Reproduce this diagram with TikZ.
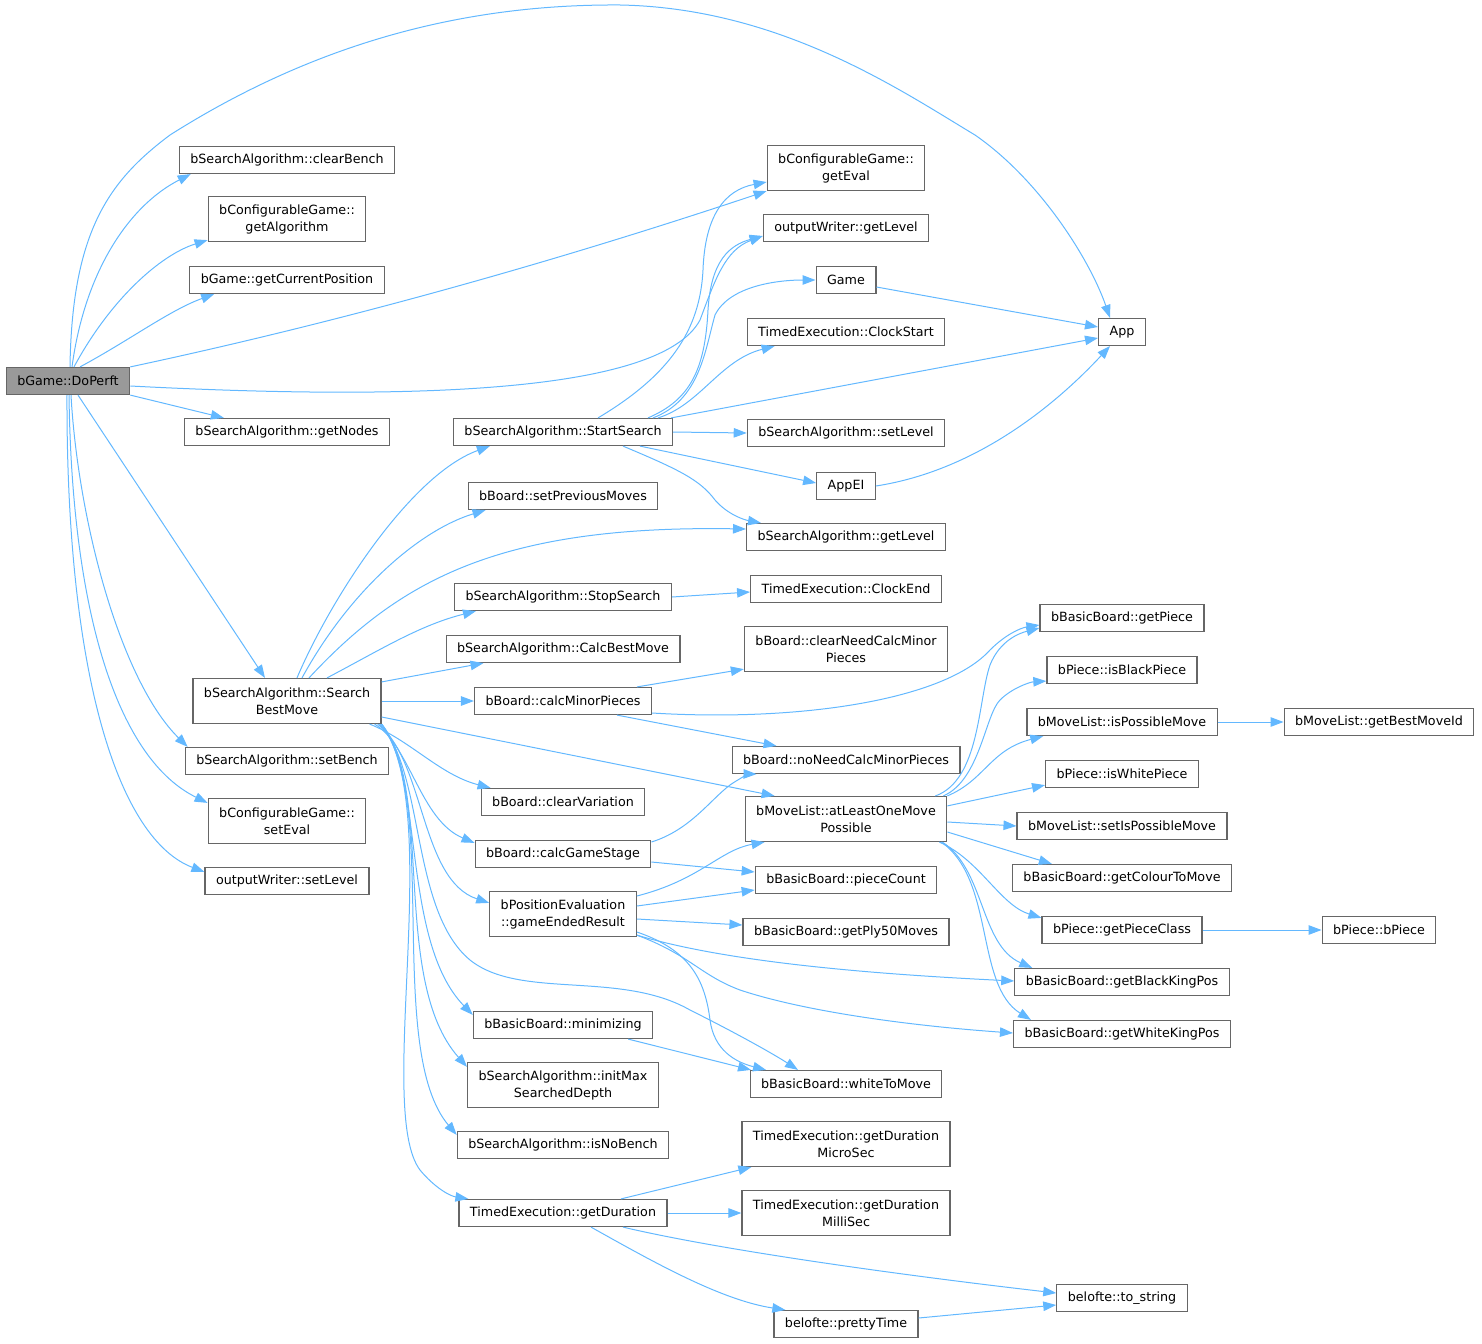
\documentclass[tikz,border=0pt]{standalone}
\usepackage{fontspec}
\setmainfont{DejaVu Sans}
\usetikzlibrary{arrows.meta}
\definecolor{nodeline}{HTML}{666666}
\definecolor{nodegray}{HTML}{999999}
\definecolor{edgeblue}{HTML}{63B8FF}
\tikzset{
  fn/.style={draw=nodeline, fill=white, line width=1.2pt, inner xsep=11pt, inner ysep=6pt,
    minimum height=27pt, align=center, font=\fontsize{12.7}{17}\selectfont},
  tall/.style={minimum height=45pt},
  hl/.style={fn, fill=nodegray},
  call/.style={draw=edgeblue, line width=1pt, -{Triangle[length=13pt,width=9.5pt]}}
}
\begin{document}
\begin{tikzpicture}[x=1pt,y=-1pt]
\useasboundingbox (0,0) rectangle (1482,1343);
% first column
\node[hl] (doPerft) at (68,381){bGame::DoPerft};
% second column
\node[fn] (clearBench) at (287,160){bSearchAlgorithm::clearBench};
\node[fn, tall] (getAlgorithm) at (287,219){bConfigurableGame::\\getAlgorithm};
\node[fn] (getCurPos) at (287,280){bGame::getCurrentPosition};
\node[fn] (getNodes) at (287,432){bSearchAlgorithm::getNodes};
\node[fn, tall] (searchBest) at (287,701){bSearchAlgorithm::Search\\BestMove};
\node[fn] (setBench) at (287,761){bSearchAlgorithm::setBench};
\node[fn, tall] (setEval) at (287,821){bConfigurableGame::\\setEval};
\node[fn] (owSetLevel) at (287,881){outputWriter::setLevel};
% third column
\node[fn] (startSearch) at (563,432){bSearchAlgorithm::StartSearch};
\node[fn] (setPrevMoves) at (563,496){bBoard::setPreviousMoves};
\node[fn] (stopSearch) at (563,597){bSearchAlgorithm::StopSearch};
\node[fn] (calcBest) at (563,649){bSearchAlgorithm::CalcBestMove};
\node[fn] (calcMinor) at (563,701){bBoard::calcMinorPieces};
\node[fn] (clearVar) at (563,802){bBoard::clearVariation};
\node[fn] (calcStage) at (563,854){bBoard::calcGameStage};
\node[fn, tall] (gameEnded) at (563,914){bPositionEvaluation\\::gameEndedResult};
\node[fn] (minimizing) at (563,1025){bBasicBoard::minimizing};
\node[fn, tall] (initMax) at (563,1085){bSearchAlgorithm::initMax\\SearchedDepth};
\node[fn] (isNoBench) at (563,1145){bSearchAlgorithm::isNoBench};
\node[fn] (getDuration) at (563,1213){TimedExecution::getDuration};
% fourth column
\node[fn, tall] (getEval) at (846,168){bConfigurableGame::\\getEval};
\node[fn] (owGetLevel) at (846,228){outputWriter::getLevel};
\node[fn] (game) at (846,280){Game};
\node[fn] (clockStart) at (846,332){TimedExecution::ClockStart};
\node[fn] (saSetLevel) at (846,433){bSearchAlgorithm::setLevel};
\node[fn] (appEI) at (846,486){AppEI};
\node[fn] (saGetLevel) at (846,537){bSearchAlgorithm::getLevel};
\node[fn] (clockEnd) at (846,589){TimedExecution::ClockEnd};
\node[fn, tall] (clearNeed) at (846,649){bBoard::clearNeedCalcMinor\\Pieces};
\node[fn] (noNeed) at (846,760){bBoard::noNeedCalcMinorPieces};
\node[fn, tall] (atLeastOne) at (846,819){bMoveList::atLeastOneMove\\Possible};
\node[fn] (pieceCount) at (846,880){bBasicBoard::pieceCount};
\node[fn] (getPly) at (846,932){bBasicBoard::getPly50Moves};
\node[fn] (whiteToMove) at (846,1084){bBasicBoard::whiteToMove};
\node[fn, tall] (durMicro) at (846,1144){TimedExecution::getDuration\\MicroSec};
\node[fn, tall] (durMilli) at (846,1213){TimedExecution::getDuration\\MilliSec};
\node[fn] (prettyTime) at (846,1324){belofte::prettyTime};
% fifth column
\node[fn] (app) at (1122,332){App};
\node[fn] (getPiece) at (1122,618){bBasicBoard::getPiece};
\node[fn] (isBlack) at (1122,670){bPiece::isBlackPiece};
\node[fn] (isPossible) at (1122,722){bMoveList::isPossibleMove};
\node[fn] (isWhite) at (1122,774){bPiece::isWhitePiece};
\node[fn] (setIsPossible) at (1122,826){bMoveList::setIsPossibleMove};
\node[fn] (getColour) at (1122,878){bBasicBoard::getColourToMove};
\node[fn] (getPieceClass) at (1122,930){bPiece::getPieceClass};
\node[fn] (getBlackKing) at (1122,982){bBasicBoard::getBlackKingPos};
\node[fn] (getWhiteKing) at (1122,1034){bBasicBoard::getWhiteKingPos};
\node[fn] (toString) at (1122,1298){belofte::to\_string};
% sixth column
\node[fn] (getBestMove) at (1379,722){bMoveList::getBestMoveId};
\node[fn] (bPiece) at (1379,930){bPiece::bPiece};
% calls of bGame::DoPerft
\draw[call] ([xshift=2pt]doPerft.north) .. controls (72,230) and (110,180) .. (170,135) .. controls (320,40) and (470,4) .. (620,5) .. controls (780,8) and (900,90) .. (975,135) .. controls (1040,180) and (1090,260) .. ([xshift=-12pt]app.north);
\draw[call] ([xshift=4pt]doPerft.north) .. controls (85,270) and (130,205) .. ([xshift=12pt]clearBench.south west);
\draw[call] ([xshift=6pt]doPerft.north) .. controls (110,300) and (160,255) .. ([yshift=2pt]getAlgorithm.south west);
\draw[call] ([xshift=12pt]doPerft.north) .. controls (130,340) and (170,310) .. ([xshift=25pt]getCurPos.south west);
\draw[call] (doPerft.north east) .. controls (350,320) and (560,260) .. (getEval.south west);
\draw[call] ([yshift=-5pt]doPerft.east) .. controls (400,400) and (660,395) .. (700,320) .. controls (715,280) and (725,250) .. ([yshift=-8pt]owGetLevel.west);
\draw[call] (doPerft.south east) -- ([xshift=40pt]getNodes.north west);
\draw[call] ([xshift=10pt]doPerft.south) -- ([xshift=-22pt]searchBest.north);
\draw[call] ([xshift=3pt]doPerft.south) .. controls (78,520) and (120,680) .. ([xshift=3pt]setBench.north west);
\draw[call] ([xshift=1pt]doPerft.south) .. controls (72,620) and (120,760) .. ([yshift=-5pt]setEval.north west);
\draw[call] ([xshift=-1pt]doPerft.south) .. controls (66,680) and (120,840) .. ([yshift=-5pt]owSetLevel.north west);
% calls of StartSearch
\draw[call] ([xshift=35pt]startSearch.north) .. controls (670,375) and (700,330) .. (703,270) .. controls (705,215) and (725,190) .. ([yshift=-14pt]getEval.west);
\draw[call] ([xshift=85pt]startSearch.north) .. controls (690,400) and (705,370) .. (708,310) .. controls (711,260) and (730,245) .. ([yshift=-8pt]owGetLevel.west);
\draw[call] ([xshift=90pt]startSearch.north) .. controls (700,400) and (705,350) .. (715,315) .. controls (730,285) and (780,280) .. (game.west);
\draw[call] ([xshift=95pt]startSearch.north) .. controls (700,405) and (720,360) .. ([xshift=28pt]clockStart.south west);
\draw[call] ([xshift=-2pt]startSearch.north east) -- ([yshift=-6pt]app.west);
\draw[call] (startSearch.east) -- (saSetLevel.west);
\draw[call] ([xshift=77pt]startSearch.south) -- ([yshift=3pt]appEI.west);
\draw[call] ([xshift=60pt]startSearch.south) .. controls (680,470) and (700,480) .. (715,500) .. controls (728,515) and (745,520) .. ([xshift=15pt]saGetLevel.north west);
\draw[call] ([yshift=-7pt]game.east) -- ([yshift=5pt]app.west);
\draw[call] (appEI.east) .. controls (980,470) and (1060,400) .. ([xshift=-12pt]app.south);
% calls of SearchBestMove
\draw[call] ([xshift=10pt]searchBest.north) .. controls (330,600) and (410,475) .. ([xshift=37pt]startSearch.south west);
\draw[call] ([xshift=15pt]searchBest.north) .. controls (350,590) and (420,530) .. ([xshift=18pt]setPrevMoves.south west);
\draw[call] ([xshift=22pt]searchBest.north) .. controls (400,580) and (500,525) .. ([yshift=8pt]saGetLevel.west);
\draw[call] ([xshift=40pt]searchBest.north) .. controls (380,650) and (420,625) .. ([xshift=22pt]stopSearch.south west);
\draw[call] ([yshift=-4pt]searchBest.north east) -- ([xshift=38pt]calcBest.south west);
\draw[call] (searchBest.east) -- (calcMinor.west);
\draw[call] ([yshift=-16pt]searchBest.east) -- ([xshift=30pt]atLeastOne.north west);
\draw[call] ([xshift=-12pt]searchBest.south east) .. controls (410,740) and (440,775) .. ([xshift=10pt]clearVar.north west);
\draw[call] ([xshift=-7pt]searchBest.south east) .. controls (410,745) and (420,820) .. ([yshift=-3pt]calcStage.north west);
\draw[call] ([xshift=-4pt]searchBest.south east) .. controls (425,760) and (420,880) .. ([yshift=-12pt]gameEnded.north west);
\draw[call] ([xshift=-2pt]searchBest.south east) .. controls (425,770) and (410,910) .. (470,960) .. controls (520,1000) and (620,970) .. (690,1010) .. controls (740,1035) and (775,1055) .. ([xshift=-48pt]whiteToMove.north);
\draw[call] ([xshift=-2pt]searchBest.south east) .. controls (425,770) and (400,940) .. ([yshift=-4pt]minimizing.north west);
\draw[call] (searchBest.south east) .. controls (435,790) and (390,980) .. ([yshift=-5pt]initMax.north west);
\draw[call] (searchBest.south east) .. controls (440,800) and (385,1050) .. ([yshift=-4pt]isNoBench.north west);
\draw[call] (searchBest.south east) .. controls (445,810) and (375,1110) .. (420,1170) .. controls (435,1188) and (450,1196) .. ([xshift=10pt]getDuration.north west);
% board and evaluation calls
\draw[call] (stopSearch.east) -- ([yshift=-3pt]clockEnd.west);
\draw[call] ([xshift=-15pt]calcMinor.north east) -- ([yshift=3pt]clearNeed.south west);
\draw[call] ([yshift=-12pt]calcMinor.east) .. controls (800,722) and (945,700) .. (990,650) .. controls (1005,635) and (1020,628) .. ([yshift=-7pt]getPiece.west);
\draw[call] ([xshift=-35pt]calcMinor.south east) -- ([xshift=45pt]noNeed.north west);
\draw[call] ([yshift=12pt]calcStage.east) .. controls (690,830) and (710,800) .. (730,785) .. controls (740,778) and (750,774) .. ([xshift=25pt]noNeed.south west);
\draw[call] ([yshift=-8pt]calcStage.east) -- ([yshift=8pt]pieceCount.west);
\draw[call] ([yshift=18pt]gameEnded.east) .. controls (700,880) and (720,850) .. ([xshift=20pt]atLeastOne.south west);
\draw[call] ([yshift=8pt]gameEnded.east) -- ([yshift=-10pt]pieceCount.west);
\draw[call] ([yshift=-5pt]gameEnded.east) -- ([yshift=7pt]getPly.west);
\draw[call] ([yshift=2pt]gameEnded.south east) .. controls (720,960) and (850,973) .. ([yshift=1pt]getBlackKing.west);
\draw[call] ([yshift=2pt]gameEnded.south east) .. controls (690,955) and (700,975) .. (740,990) .. controls (800,1010) and (900,1025) .. ([yshift=1pt]getWhiteKing.west);
\draw[call] ([yshift=-18pt]gameEnded.east) .. controls (690,950) and (705,980) .. (710,1020) .. controls (714,1050) and (735,1062) .. ([xshift=-80pt]whiteToMove.north);
\draw[call] ([xshift=-25pt]minimizing.south east) -- ([xshift=-95pt]whiteToMove.north);
% calls of atLeastOneMovePossible
\draw[call] ([xshift=-12pt]atLeastOne.north east) .. controls (980,780) and (978,700) .. (990,665) .. controls (1000,640) and (1020,633) .. ([yshift=-10pt]getPiece.west);
\draw[call] ([xshift=-4pt]atLeastOne.north east) .. controls (980,780) and (985,715) .. (1000,700) .. controls (1012,688) and (1030,682) .. ([yshift=3pt]isBlack.south west);
\draw[call] (atLeastOne.north east) .. controls (985,780) and (990,750) .. ([xshift=17pt]isPossible.south west);
\draw[call] ([yshift=-10pt]atLeastOne.north east) -- ([yshift=3pt]isWhite.south west);
\draw[call] ([yshift=-3pt]atLeastOne.east) -- (setIsPossible.west);
\draw[call] ([yshift=-13pt]atLeastOne.east) -- ([xshift=40pt]getColour.north west);
\draw[call] ([xshift=-8pt]atLeastOne.south east) .. controls (980,860) and (1000,905) .. ([yshift=-2pt]getPieceClass.north west);
\draw[call] ([xshift=-5pt]atLeastOne.south east) .. controls (985,870) and (980,945) .. ([xshift=18pt]getBlackKing.north west);
\draw[call] ([xshift=-6pt]atLeastOne.south east) .. controls (995,880) and (975,985) .. ([xshift=18pt]getWhiteKing.north west);
\draw[call] (isPossible.east) -- (getBestMove.west);
\draw[call] (getPieceClass.east) -- (bPiece.west);
% calls of getDuration
\draw[call] ([xshift=58pt]getDuration.north) -- ([xshift=10pt]durMicro.south west);
\draw[call] (getDuration.east) -- (durMilli.west);
\draw[call] ([xshift=60pt]getDuration.south) .. controls (720,1250) and (900,1275) .. ([yshift=5pt]toString.west);
\draw[call] ([xshift=28pt]getDuration.south) .. controls (650,1260) and (720,1300) .. ([xshift=12pt]prettyTime.north west);
\draw[call] ([yshift=6pt]prettyTime.east) -- ([yshift=-7pt]toString.west);
\end{tikzpicture}
\end{document}
